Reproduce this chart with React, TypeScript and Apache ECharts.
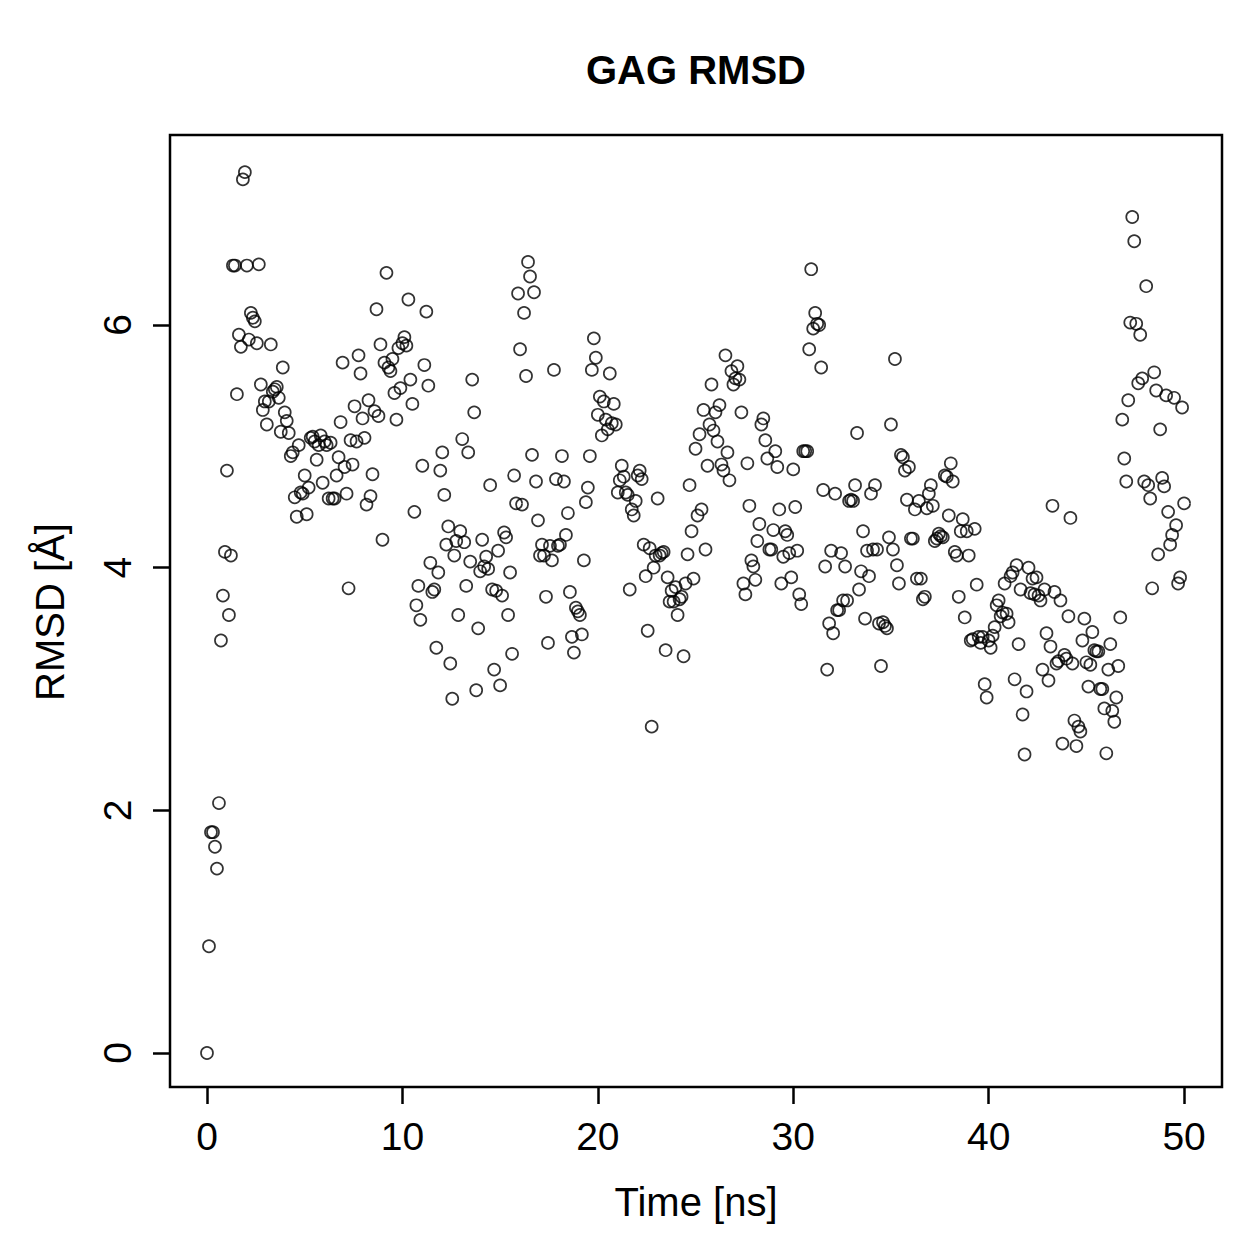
import React, { useEffect, useRef } from "react";
import * as echarts from "echarts";

const TITLE = "GAG RMSD";
const X_LABEL = "Time [ns]";
const Y_LABEL = "RMSD [Å]";
const X_TICKS = [0, 10, 20, 30, 40, 50];
const Y_TICKS = [0, 2, 4, 6];
const TIME_END = 50;

// RMSD values (Å) in time order, sampled evenly from 0 to 50 ns
const RMSD = [
  0.0, 0.88, 1.82, 1.82, 1.70, 1.52, 2.06, 3.40, 3.77, 4.13, 4.80, 3.61, 4.10, 6.49, 6.49, 5.43, 5.92, 5.82, 7.20, 7.26,
  6.49, 5.88, 6.10, 6.06, 6.03, 5.85, 6.50, 5.51, 5.30, 5.37, 5.18, 5.37, 5.84, 5.45, 5.47, 5.49, 5.40, 5.12, 5.65, 5.28,
  5.21, 5.11, 4.92, 4.95, 4.58, 4.42, 5.01, 4.62, 4.61, 4.76, 4.44, 4.66, 5.07, 5.08, 5.04, 4.89, 5.01, 5.09, 4.70, 5.04,
  5.01, 4.57, 5.03, 4.57, 4.57, 4.76, 4.91, 5.20, 5.69, 4.83, 4.61, 3.83, 5.05, 4.85, 5.33, 5.04, 5.75, 5.60, 5.23, 5.07,
  4.52, 5.38, 4.59, 4.77, 5.29, 6.13, 5.25, 5.84, 4.23, 5.69, 6.43, 5.65, 5.62, 5.72, 5.44, 5.22, 5.81, 5.48, 5.85, 5.90,
  5.83, 6.21, 5.55, 5.35, 4.46, 3.69, 3.85, 3.57, 4.84, 5.67, 6.11, 5.50, 4.04, 3.80, 3.82, 3.34, 3.96, 4.80, 4.95, 4.60,
  4.19, 4.34, 3.21, 2.92, 4.10, 4.22, 3.61, 4.30, 5.06, 4.21, 3.85, 4.95, 4.05, 5.55, 5.28, 2.99, 3.50, 3.97, 4.23, 4.01,
  4.09, 3.99, 4.68, 3.82, 3.16, 3.81, 4.14, 3.03, 3.77, 4.29, 4.25, 3.61, 3.96, 3.29, 4.76, 4.53, 6.26, 5.80, 4.52, 6.10,
  5.58, 6.52, 6.40, 4.93, 6.27, 4.71, 4.39, 4.10, 4.19, 4.10, 3.76, 3.38, 4.18, 4.06, 5.63, 4.73, 4.18, 4.19, 4.92, 4.71,
  4.27, 4.45, 3.80, 3.43, 3.30, 3.67, 3.64, 3.61, 3.45, 4.06, 4.54, 4.66, 4.92, 5.63, 5.89, 5.73, 5.26, 5.41, 5.09, 5.37,
  5.22, 5.14, 5.60, 5.19, 5.35, 5.18, 4.62, 4.72, 4.84, 4.75, 4.62, 4.60, 3.82, 4.48, 4.43, 4.55, 4.76, 4.80, 4.73, 4.19,
  3.93, 3.48, 4.16, 2.69, 4.00, 4.10, 4.57, 4.10, 4.12, 4.13, 3.32, 3.92, 3.72, 3.81, 3.72, 3.84, 3.61, 3.74, 3.76, 3.27,
  3.87, 4.11, 4.68, 4.30, 3.91, 4.98, 4.43, 5.10, 4.48, 5.30, 4.15, 4.84, 5.18, 5.51, 5.13, 5.28, 5.04, 5.34, 4.85, 4.80,
  5.75, 4.95, 4.72, 5.62, 5.51, 5.56, 5.66, 5.55, 5.28, 3.87, 3.78, 4.86, 4.51, 4.06, 4.01, 3.90, 4.22, 4.36, 5.18, 5.23,
  5.05, 4.90, 4.15, 4.15, 4.31, 4.96, 4.83, 4.48, 3.87, 4.09, 4.30, 4.27, 4.12, 3.92, 4.81, 4.50, 4.14, 3.78, 3.70, 4.96,
  4.96, 4.96, 5.80, 6.46, 5.97, 6.10, 6.01, 6.00, 5.65, 4.64, 4.01, 3.16, 3.54, 4.14, 3.46, 4.61, 3.65, 3.65, 4.12, 3.73,
  4.01, 3.73, 4.55, 4.56, 4.55, 4.68, 5.11, 3.82, 3.97, 4.30, 3.58, 4.14, 3.93, 4.61, 4.15, 4.68, 4.15, 3.54, 3.19, 3.55,
  3.52, 3.50, 4.25, 5.18, 4.15, 5.72, 4.02, 3.87, 4.93, 4.91, 4.80, 4.56, 4.83, 4.24, 4.24, 4.48, 3.91, 4.55, 3.91, 3.74,
  3.76, 4.49, 4.61, 4.68, 4.51, 4.22, 4.24, 4.28, 4.26, 4.25, 4.76, 4.75, 4.43, 4.86, 4.71, 4.13, 4.10, 3.76, 4.30, 4.40,
  3.59, 4.30, 4.10, 3.40, 3.41, 4.32, 3.86, 3.43, 3.38, 3.43, 3.04, 2.93, 3.40, 3.34, 3.44, 3.51, 3.69, 3.73, 3.60, 3.63,
  3.87, 3.62, 3.55, 3.93, 3.96, 3.08, 4.02, 3.37, 3.82, 2.79, 2.46, 2.98, 4.00, 3.79, 3.91, 3.78, 3.92, 3.77, 3.73, 3.16,
  3.82, 3.46, 3.07, 3.35, 4.51, 3.80, 3.21, 3.23, 3.73, 2.55, 3.28, 3.25, 3.60, 4.41, 3.21, 2.74, 2.53, 2.69, 2.65, 3.40,
  3.58, 3.22, 3.02, 3.20, 3.47, 3.32, 3.31, 3.31, 3.00, 3.00, 2.84, 2.47, 3.16, 3.37, 2.82, 2.73, 2.93, 3.19, 3.59, 5.22,
  4.90, 4.71, 5.38, 6.02, 6.89, 6.69, 6.01, 5.52, 5.92, 5.56, 4.71, 6.32, 4.68, 4.57, 3.83, 5.61, 5.46, 4.11, 5.14, 4.74,
  4.67, 5.42, 4.46, 4.19, 4.27, 5.40, 4.35, 3.87, 3.92, 5.32, 4.53,
];

const FONT = "'Liberation Sans', Arial, Helvetica, sans-serif";

export default function App() {
  const ref = useRef<HTMLDivElement>(null);
  useEffect(() => {
    document.body.style.margin = "0";
    const chart = echarts.init(ref.current!, null, { renderer: "svg" });
    const step = TIME_END / (RMSD.length - 1);
    const data = RMSD.map((v, i) => [i * step, v]);
    const gridLeft = 170, gridTop = 135, gridW = 1052, gridH = 952;
    chart.setOption({
      animation: false,
      backgroundColor: "#ffffff",
      grid: {
        left: gridLeft, top: gridTop, width: gridW, height: gridH,
        show: true, borderColor: "#000", borderWidth: 2.5, backgroundColor: "transparent",
      },
      xAxis: {
        type: "value", min: -1.893, max: 51.94,
        splitLine: { show: false },
        axisLine: { show: false, onZero: false },
        axisTick: { show: true, customValues: X_TICKS, length: 17, inside: false, lineStyle: { color: "#000", width: 2.5 } },
        axisLabel: { customValues: X_TICKS, color: "#000", fontFamily: FONT, fontSize: 39, margin: 30 },
      },
      yAxis: {
        type: "value", min: -0.28, max: 7.566,
        splitLine: { show: false },
        axisLine: { show: false, onZero: false },
        axisTick: { show: true, customValues: Y_TICKS, length: 17, inside: false, lineStyle: { color: "#000", width: 2.5 } },
        axisLabel: { customValues: Y_TICKS, color: "#000", fontFamily: FONT, fontSize: 39, margin: 33, rotate: 90 },
      },
      graphic: [
        { type: "text", x: 696, y: 70, style: { text: TITLE, font: `bold 40px ${FONT}`, fill: "#000", align: "center", verticalAlign: "middle" } },
        { type: "text", x: 696, y: 1202, style: { text: X_LABEL, font: `40px ${FONT}`, fill: "#000", align: "center", verticalAlign: "middle" } },
        { type: "text", x: 50, y: 612, rotation: Math.PI / 2, style: { text: Y_LABEL, font: `40px ${FONT}`, fill: "#000", align: "center", verticalAlign: "middle" } },
      ],
      series: [
        {
          type: "scatter",
          data,
          symbol: "circle",
          symbolSize: 12,
          itemStyle: { color: "rgba(0,0,0,0)", borderColor: "#000", borderWidth: 1.7 },
          emphasis: { disabled: true },
        },
      ],
    });
    return () => chart.dispose();
  }, []);
  return <div ref={ref} style={{ width: 1259, height: 1259 }} />;
}
